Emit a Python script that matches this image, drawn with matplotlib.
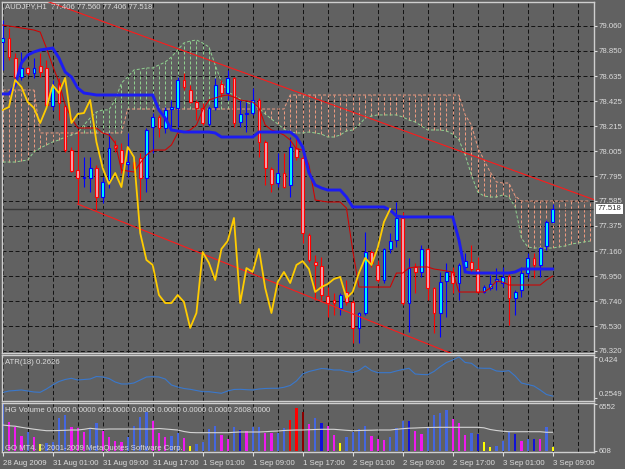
import numpy as np
import matplotlib.pyplot as plt
from matplotlib.transforms import blended_transform_factory

"""
AUDJPY H1 chart with Ichimoku, ATR(18) and HG Volume sub windows (MT4 look)
"""
plt.rcParams['lines.scale_dashes'] = False
plt.rcParams['font.family'] = ['Liberation Sans', 'DejaVu Sans']

# ---- price bars, 28 Aug 2009 17:00 .. 3 Sep 2009 09:00
opens = [78.925, 78.959, 78.790, 78.630, 78.706, 78.664, 78.723, 78.706, 78.385, 78.579,
         78.385, 78.014, 77.846, 77.778, 77.778, 77.863, 77.618, 77.761, 78.057, 78.014,
         77.896, 77.913, 77.947, 77.778, 78.208, 78.293, 78.200, 78.360, 78.369, 78.605,
         78.520, 78.419, 78.369, 78.234, 78.377, 78.571, 78.495, 78.622, 78.251, 78.318,
         78.326, 78.436, 78.082, 77.854, 77.736, 77.820, 77.719, 78.031, 77.947, 77.298,
         77.070, 77.036, 76.783, 76.750, 76.682, 76.817, 76.733, 76.514, 76.640, 77.154,
         77.045, 76.918, 77.180, 77.256, 77.441, 76.724, 77.028, 76.986, 77.180, 76.851,
         76.640, 76.910, 76.986, 76.893, 77.028, 77.070, 77.011, 76.817, 76.851, 76.910,
         76.893, 76.952, 76.766, 76.834, 76.977, 77.104, 77.045, 77.205, 77.406]
highs = [79.111, 79.043, 78.832, 78.841, 78.714, 78.790, 78.832, 78.773, 78.605, 78.622,
         78.394, 78.040, 78.183, 77.955, 77.955, 77.888, 77.787, 78.158, 78.099, 78.073,
         78.158, 77.947, 77.989, 78.200, 78.326, 78.310, 78.377, 78.436, 78.630, 78.664,
         78.562, 78.436, 78.411, 78.385, 78.622, 78.605, 78.689, 78.630, 78.436, 78.419,
         78.537, 78.453, 78.099, 77.871, 77.989, 77.989, 78.124, 78.124, 77.989, 77.315,
         77.129, 77.112, 76.859, 76.809, 76.809, 76.918, 76.750, 76.648, 77.323, 77.171,
         77.087, 77.188, 77.315, 77.576, 77.492, 77.104, 77.062, 77.213, 77.188, 76.859,
         76.986, 77.062, 77.028, 77.062, 77.146, 77.213, 77.112, 76.876, 76.960, 77.019,
         77.028, 76.977, 76.834, 77.028, 77.146, 77.146, 77.197, 77.424, 77.560]
lows = [78.689, 78.773, 78.605, 78.605, 78.647, 78.622, 78.630, 78.377, 78.352, 78.267,
        77.998, 77.829, 77.567, 77.702, 77.660, 77.508, 77.567, 77.694, 77.998, 77.820,
        77.787, 77.829, 77.593, 77.660, 77.989, 78.124, 78.158, 78.208, 78.208, 78.520,
        78.411, 78.267, 78.225, 78.217, 78.352, 78.461, 78.436, 78.208, 78.208, 78.166,
        78.310, 77.955, 77.719, 77.660, 77.702, 77.694, 77.618, 77.930, 77.230, 77.070,
        76.750, 76.750, 76.606, 76.623, 76.623, 76.707, 76.387, 76.387, 76.623, 77.028,
        76.901, 76.893, 77.146, 77.197, 76.707, 76.480, 76.809, 76.944, 76.750, 76.471,
        76.438, 76.606, 76.809, 76.750, 77.003, 76.986, 76.809, 76.809, 76.834, 76.834,
        76.859, 76.539, 76.623, 76.775, 76.935, 76.935, 76.944, 77.171, 77.406]
closes = [78.959, 78.799, 78.630, 78.706, 78.664, 78.706, 78.672, 78.394, 78.562, 78.411,
          78.014, 77.837, 77.778, 77.787, 77.863, 77.618, 77.745, 78.031, 78.031, 77.905,
          77.913, 77.863, 77.778, 78.183, 78.293, 78.200, 78.352, 78.377, 78.605, 78.546,
          78.419, 78.369, 78.242, 78.369, 78.562, 78.495, 78.622, 78.242, 78.318, 78.326,
          78.436, 78.082, 77.863, 77.728, 77.820, 77.702, 78.040, 77.955, 77.315, 77.087,
          77.045, 76.792, 76.724, 76.724, 76.792, 76.733, 76.514, 76.640, 77.154, 77.062,
          76.918, 77.180, 77.247, 77.441, 76.724, 77.019, 76.986, 77.180, 76.851, 76.640,
          76.901, 76.986, 76.893, 77.045, 77.078, 77.011, 76.817, 76.859, 76.884, 76.927,
          76.944, 76.766, 76.817, 76.977, 77.104, 77.045, 77.188, 77.407, 77.518]

# ---- Ichimoku
tenkan = [79.068, 79.060, 79.052, 79.043, 79.035, 79.026, 79.009, 78.874, 78.723, 78.588,
          78.394, 78.284, 78.200, 78.200, 78.200, 78.200, 78.158, 78.141, 78.073, 77.846,
          77.837, 77.829, 77.905, 77.972, 78.014, 78.014, 78.014, 78.057, 78.158, 78.166,
          78.183, 78.225, 78.352, 78.436, 78.453, 78.470, 78.478, 78.461, 78.436, 78.428,
          78.419, 78.369, 78.225, 78.183, 78.166, 78.141, 78.099, 78.023, 78.014, 77.888,
          77.593, 77.584, 77.576, 77.576, 77.576, 77.525, 77.171, 76.859, 76.859, 76.859,
          76.859, 76.859, 76.859, 76.977, 76.977, 77.019, 77.028, 77.028, 77.028, 77.011,
          77.003, 76.994, 76.986, 76.817, 76.817, 76.817, 76.817, 76.817, 76.851, 76.910,
          76.901, 76.876, 76.876, 76.876, 76.876, 76.876, 76.876, 76.918, 76.952]
kijun = [78.487, 78.487, 78.562, 78.748, 78.815, 78.841, 78.858, 78.866, 78.874, 78.790,
         78.672, 78.630, 78.537, 78.495, 78.487, 78.478, 78.478, 78.478, 78.478, 78.478,
         78.478, 78.478, 78.478, 78.478, 78.478, 78.352, 78.284, 78.183, 78.175, 78.166,
         78.166, 78.166, 78.166, 78.166, 78.158, 78.124, 78.124, 78.124, 78.124, 78.124,
         78.124, 78.166, 78.166, 78.166, 78.166, 78.166, 78.166, 78.124, 78.040, 77.822,
         77.719, 77.694, 77.677, 77.677, 77.677, 77.618, 77.534, 77.534, 77.534, 77.534,
         77.534, 77.534, 77.508, 77.458, 77.450, 77.450, 77.450, 77.450, 77.450, 77.450,
         77.450, 77.450, 77.450, 77.256, 76.986, 76.977, 76.977, 76.977, 76.977, 76.977,
         76.977, 76.977, 76.986, 77.011, 77.011, 77.011, 77.011, 77.011, 77.011]
# senkou spans, already shifted 26 bars ahead (run past the last bar)
span_a = [77.913, 77.913, 77.913, 77.922, 77.930, 77.998, 78.031, 78.057, 78.082, 78.099,
          78.124, 78.141, 78.158, 78.225, 78.284, 78.335, 78.352, 78.352, 78.436, 78.579,
          78.630, 78.689, 78.697, 78.706, 78.706, 78.731, 78.756, 78.799, 78.858, 78.917,
          78.933, 78.942, 78.917, 78.883, 78.731, 78.588, 78.503, 78.478, 78.445, 78.419,
          78.394, 78.369, 78.318, 78.276, 78.234, 78.191, 78.166, 78.158, 78.158, 78.166,
          78.158, 78.149, 78.124, 78.124, 78.141, 78.175, 78.183, 78.225, 78.284, 78.301,
          78.310, 78.310, 78.310, 78.310, 78.293, 78.267, 78.251, 78.217, 78.183, 78.183,
          78.183, 78.175, 78.149, 78.099, 77.972, 77.804, 77.660, 77.627, 77.618, 77.618,
          77.635, 77.618, 77.534, 77.272, 77.197, 77.188, 77.188, 77.188, 77.188, 77.197,
          77.205, 77.222, 77.230, 77.239, 77.247]
span_b = [78.520] * 6 + [78.158] * 14 + [78.360] * 26 + [78.478] * 28 + \
         [78.310, 78.225, 78.040, 77.930, 77.829, 77.745, 77.736, 77.736, 77.627] + [77.584] * 12

# ---- trend lines (bar, price) anchors
upper_trend = [(20, 79.022), (88, 77.722)]
lower_trend = [(12, 77.559), (56, 76.632)]

# ---- ATR(18)
atr = [0.2776, 0.2838, 0.2858, 0.2879, 0.2838, 0.2797, 0.2784, 0.2920, 0.3085, 0.3230,
       0.3312, 0.3362, 0.3291, 0.3312, 0.3333, 0.3436, 0.3415, 0.3353, 0.3209, 0.3127,
       0.3127, 0.3168, 0.3291, 0.3415, 0.3428, 0.3415, 0.3333, 0.3085, 0.3003, 0.2941,
       0.2908, 0.2858, 0.2809, 0.2809, 0.2776, 0.2743, 0.2838, 0.2900, 0.2908, 0.2891,
       0.2879, 0.2920, 0.2941, 0.2949, 0.2949, 0.2990, 0.3065, 0.3250, 0.3539, 0.3642,
       0.3704, 0.3766, 0.3745, 0.3704, 0.3704, 0.3642, 0.3601, 0.3683, 0.3869, 0.3683,
       0.3593, 0.3593, 0.3593, 0.3663, 0.3724, 0.3774, 0.3539, 0.3518, 0.3510, 0.3642,
       0.3840, 0.4013, 0.4116, 0.4240, 0.4013, 0.3980, 0.3786, 0.3774, 0.3774, 0.3663,
       0.3642, 0.3675, 0.3456, 0.3168, 0.3106, 0.3044, 0.2879, 0.2694, 0.2626]

# ---- HG Volume
volumes = [6552, 4084, 3304, 2133, 2690, 1910, 934, 1157, 1296, 4558,
           5018, 3304, 3164, 2690, 3164, 3861, 2830, 1910, 1394, 1296,
           1993, 3485, 4781, 5478, 4182, 2467, 1910, 2133, 2467, 1770,
           697, 976, 1296, 3025, 3485, 2230, 1673, 3304, 2927, 2830,
           3304, 3387, 2551, 2467, 2551, 3164, 4321, 5952, 5478, 3722,
           4558, 3861, 3527, 2230, 1073, 1910, 2690, 3025, 3485, 2133,
           1631, 1533, 1910, 3164, 4224, 4182, 2830, 2328, 3164, 5018,
           5255, 5715, 4461, 3861, 2230, 2551, 2328, 1213, 599, 739,
           1394, 2690, 2370, 1394, 1673, 1673, 1673, 3304, 605]
vol_codes = list("bmmmbmybbb" "bmmmbbmmmm" "bbbbmmmbbm" "ybbbbmmbdm" "bbmmbbrrkm"
                 "bdmmybbbbm" "mmbbbdmmbb" "bbmmmbdyyb" "bbdmbdmby")
vol_ma = [3624, 3527, 3457, 3304, 3164, 3039, 2927, 2830, 2830, 2858,
          2886, 2927, 2927, 3025, 3164, 3067, 3025, 3067, 3067, 3067,
          3067, 3067, 3067, 3067, 3067, 3137, 3067, 2997, 2927, 2718,
          2579, 2551, 2551, 2551, 2551, 2551, 2551, 2607, 2649, 2649,
          2649, 2649, 2690, 2746, 2788, 2858, 2900, 2927, 2927, 2969,
          2997, 3025, 3025, 3025, 2955, 2886, 2830, 2858, 2886, 2900,
          2927, 2927, 2927, 3025, 3109, 3178, 3206, 3248, 3276, 3290,
          3304, 3304, 3304, 3304, 3304, 3304, 3304, 3234, 2997, 2858,
          2760, 2690, 2690, 2690, 2690, 2690, 2690, 2607, 2608]

price_ticks = [79.060, 78.850, 78.635, 78.425, 78.215, 78.005, 77.795, 77.585,
               77.375, 77.160, 76.950, 76.740, 76.530, 76.320]
date_labels = ['28 Aug 2009', '31 Aug 01:00', '31 Aug 09:00', '31 Aug 17:00',
               '1 Sep 01:00', '1 Sep 09:00', '1 Sep 17:00', '2 Sep 01:00',
               '2 Sep 09:00', '2 Sep 17:00', '3 Sep 01:00', '3 Sep 09:00']

# colours
bg = '#616161'
txt = '#dcdcdc'
edge = '#cfcfcf'
vol_palette = {'b': '#4466e0', 'm': '#f018f0', 'y': '#ffff00', 'd': '#1010d8',
               'r': '#ff0000', 'k': '#8b0000'}
grid_dash = (0, (2.9, 1.8))
cloud_dash = (0, (2.2, 1.4))

o = np.array(opens); h = np.array(highs); l = np.array(lows); c = np.array(closes)
bars = np.arange(len(c))
W, H = 625.0, 469.0

fig = plt.figure(figsize=(6.25, 4.69), dpi=100, facecolor=bg)
ax = fig.add_axes([2/W, 1-353/H, 592/W, 351/H])
ax_atr = fig.add_axes([2/W, 1-401/H, 592/W, 46/H], sharex=ax)
ax_vol = fig.add_axes([2/W, 1-452/H, 592/W, 49/H], sharex=ax)

for a_ in (ax, ax_atr, ax_vol):
    a_.set_facecolor(bg)
    for s in a_.spines.values():
        s.set_color(edge)
        s.set_linewidth(1.0)
    a_.yaxis.tick_right()
    a_.tick_params(axis='y', length=2, pad=1.5, labelsize=5.6, colors=txt)
    a_.set_xticks(np.arange(0, 89, 8))
    a_.set_xticks(np.arange(4, 95, 8), minor=True)
    a_.tick_params(axis='x', which='minor', length=0)
    a_.grid(True, axis='x', which='both', color='#141414', linestyle=grid_dash, linewidth=0.72)
    a_.set_axisbelow(True)

ax.set_xlim(-0.11, 94.61)

# ---- main window
ax.set_ylim(76.3027, 79.2623)
ax.set_yticks(price_ticks)
ax.set_yticklabels(['%.3f' % v for v in price_ticks])
ax.grid(True, axis='y', color='#141414', linestyle=grid_dash, linewidth=0.72)
ax.tick_params(axis='x', labelbottom=False, length=0)

# cloud
xa = np.arange(len(span_a))
sa = np.array(span_a); sb = np.array(span_b)
green = '#8fd08f'; salmon = '#eb9a80'
up_cloud = sa >= sb
ax.vlines(xa[up_cloud], sb[up_cloud], sa[up_cloud], colors=green, linestyles=cloud_dash,
          linewidth=0.72, zorder=1)
ax.vlines(xa[~up_cloud], sa[~up_cloud], sb[~up_cloud], colors=salmon, linestyles=cloud_dash,
          linewidth=0.72, zorder=1)
ax.plot(xa, sa, color=green, linestyle=cloud_dash, linewidth=0.72, zorder=1)
ax.plot(xa, sb, color=salmon, linestyle=cloud_dash, linewidth=0.72, zorder=1)

# current price line
ax.axhline(c[-1], color='#383838', linewidth=1.0, zorder=1.5)

# candles
bull = c >= o
ax.vlines(bars[bull], l[bull], h[bull], colors='#0000ff', linewidth=0.8, zorder=3)
ax.vlines(bars[~bull], l[~bull], h[~bull], colors='#ff0000', linewidth=0.8, zorder=3)
ax.bar(bars[bull], np.maximum(c - o, 0.006)[bull], bottom=o[bull], width=0.42,
       color='#00ffff', edgecolor='#0000ff', linewidth=0.8, zorder=4)
ax.bar(bars[~bull], np.maximum(o - c, 0.006)[~bull], bottom=c[~bull], width=0.42,
       color='#f2a6b0', edgecolor='#ff0000', linewidth=0.8, zorder=4)

# tenkan / kijun / chikou
ax.plot(bars, tenkan, color='#d40000', linewidth=0.75, zorder=5)
ax.plot(bars, kijun, color='#1c1cf2', linewidth=2.1, zorder=6, solid_joinstyle='miter')
chikou = c[26:]
ax.plot(np.arange(len(chikou)), chikou, color='#ffcc00', linewidth=1.3, zorder=6)

# trend lines
(x1, y1), (x2, y2) = upper_trend
k_up = (y2 - y1) / (x2 - x1)
xs = np.array([0.0, 95.0])
ax.plot(xs, y1 + k_up * (xs - x1), color='#ff1a1a', linewidth=0.8, zorder=5)
(x1, y1), (x2, y2) = lower_trend
k_lo = (y2 - y1) / (x2 - x1)
xs = np.array([x1, 95.0])
ax.plot(xs, y1 + k_lo * (xs - x1), color='#ff1a1a', linewidth=0.8, zorder=5)

# price box
blend = blended_transform_factory(ax.transAxes, ax.transData)
ax.text(1.006, c[-1], '%.3f' % c[-1], transform=blend, ha='left', va='center',
        fontsize=5.6, color='#303030',
        bbox=dict(facecolor='white', edgecolor='none', pad=1.0), zorder=10, clip_on=False)

# ---- ATR window
ax_atr.plot(bars, atr, color='#3a78cc', linewidth=0.8)
ax_atr.set_ylim(0.2425, 0.4322)
ax_atr.set_yticks([0.424, 0.2549])
ax_atr.set_yticklabels(['0.424', '0.2549'])
lbls = ax_atr.get_yticklabels()
lbls[0].set_va('top'); lbls[1].set_va('bottom')
ax_atr.tick_params(axis='x', labelbottom=False, length=0)

# ---- volume window
ax_vol.bar(bars, volumes, width=0.36, color=[vol_palette[k] for k in vol_codes], zorder=2)
ax_vol.plot(bars, vol_ma, color='#d4d4d4', linewidth=0.8, zorder=3)
ax_vol.set_ylim(-139, 6691)
ax_vol.set_yticks([6552, 0])
ax_vol.set_yticklabels(['6552', '608'])
lbls = ax_vol.get_yticklabels()
lbls[0].set_va('top'); lbls[1].set_va('center')
ax_vol.set_xticklabels(date_labels, ha='left')
ax_vol.tick_params(axis='x', which='major', length=3, pad=3, labelsize=5.6, colors=txt)

# ---- captions
fs = 5.6
fig.text(5/W, 1-7/H, 'AUDJPY,H1  %.3f %.3f %.3f %.3f' % (o[-1], h[-1], l[-1], c[-1]),
         color=txt, fontsize=fs, va='center')
fig.text(5/W, 1-363/H, 'ATR(18) %.4f' % atr[-1], color=txt, fontsize=fs, va='center')
fig.text(5/W, 1-410/H, 'HG Volume 0.0000 0.0000 %.4f 0.0000 0.0000 0.0000 0.0000 %.4f'
         % (volumes[-1], vol_ma[-1]), color=txt, fontsize=fs, va='center')
fig.text(5/W, 1-448/H, 'GO MT4. \u00a9 2001-2009 MetaQuotes Software Corp.',
         color=txt, fontsize=fs, va='center')

fig.savefig('out.png', dpi=100, facecolor=bg)
